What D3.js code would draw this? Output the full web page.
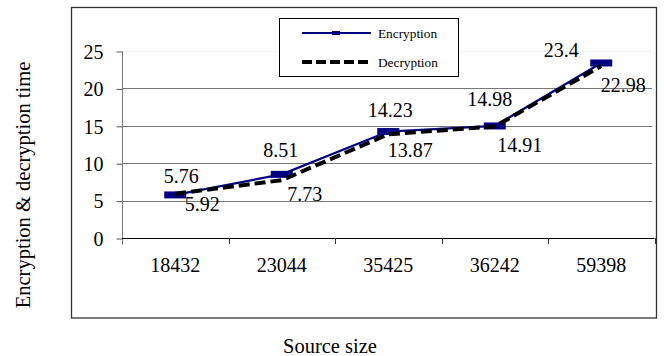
<!DOCTYPE html>
<html>
<head>
<meta charset="utf-8">
<script src="https://cdn.jsdelivr.net/npm/d3@7"></script>
<style>
  html, body { margin: 0; padding: 0; background: #fff; }
  svg { display: block; }
</style>
</head>
<body>
<svg id="chart" width="664" height="356"></svg>
<script>
// ---- data ----
const categories = ["18432", "23044", "35425", "36242", "59398"];
const encryption = [5.76, 8.51, 14.23, 14.98, 23.4];
const decryption = [5.92, 7.73, 13.87, 14.91, 22.98];
const yTicks = [0, 5, 10, 15, 20, 25];
const seriesNames = ["Encryption", "Decryption"];
const xTitle = "Source size";
const yTitle = "Encryption & decryption time";

// ---- layout (label nudges, px) ----
const encLabelDx = [6, -1, 2, -5, -40];
const encLabelDy = [-12, -17, -15, -20, -6];
const decLabelDx = [27, 23, 22, 25, 22];
const decLabelDy = [17, 21, 23, 26, 26];

const FONT = "'Liberation Serif', Tinos, 'Times New Roman', Times, 'DejaVu Serif', serif";

const svg = d3.select("#chart");

// outer frame
svg.append("rect")
  .attr("x", 71.5).attr("y", 7.5).attr("width", 585).attr("height", 310.5)
  .attr("fill", "#fff").attr("stroke", "#333").attr("stroke-width", 1.3);

const x = d3.scaleBand().domain(categories).range([122, 654.5]).padding(0);
const y = d3.scaleLinear().domain([0, 25]).range([238, 51]);
const cx = c => x(c) + x.bandwidth() / 2;

// gridlines
svg.append("g").selectAll("line")
  .data(yTicks.filter(t => t > 0))
  .join("line")
  .attr("x1", 122).attr("x2", 652)
  .attr("y1", d => Math.round(y(d)) + 0.5).attr("y2", d => Math.round(y(d)) + 0.5)
  .attr("stroke", d => d === 25 ? "#f2f2f2" : "#777")
  .attr("stroke-width", 1);

// y axis
const yAxis = svg.append("g")
  .attr("transform", "translate(122.5,0.5)")
  .call(d3.axisLeft(y).tickValues(yTicks).tickSize(6).tickPadding(13).tickFormat(d3.format("d")));
yAxis.attr("font-family", FONT).attr("font-size", 20);
yAxis.select(".domain").attr("stroke", "#777").attr("d", `M0,${y(25)}V${y(0) + 6}`);
yAxis.selectAll(".tick line").attr("stroke", "#555");
yAxis.selectAll(".tick text").attr("fill", "#000").attr("dy", "0.34em");

// x axis line and boundary ticks
svg.append("line")
  .attr("x1", 122).attr("x2", 654.5)
  .attr("y1", y(0) + 0.5).attr("y2", y(0) + 0.5)
  .attr("stroke", "#000").attr("stroke-width", 1.2);
const bounds = categories.map(c => x(c)).concat([x.range()[1]]);
svg.append("g").selectAll("line")
  .data(bounds.slice(1))
  .join("line")
  .attr("x1", d => Math.round(d) + 0.5).attr("x2", d => Math.round(d) + 0.5)
  .attr("y1", y(0)).attr("y2", y(0) + 6)
  .attr("stroke", "#333");

// x tick labels
const xAxis = svg.append("g")
  .attr("transform", `translate(0,${y(0)})`)
  .call(d3.axisBottom(x).tickSize(0).tickPadding(20));
xAxis.attr("font-family", FONT).attr("font-size", 20);
xAxis.select(".domain").remove();
xAxis.selectAll(".tick text").attr("fill", "#000");

// lines
const line = d3.line().x(d => cx(d.c)).y(d => y(d.v));
const encData = categories.map((c, i) => ({ c, v: encryption[i] }));
const decData = categories.map((c, i) => ({ c, v: decryption[i] }));

svg.append("path").datum(encData)
  .attr("d", line).attr("fill", "none")
  .attr("stroke", "#000080").attr("stroke-width", 2.2);

svg.append("g").selectAll("rect")
  .data(encData).join("rect")
  .attr("x", d => cx(d.c) - 11).attr("y", d => y(d.v) - 3.5)
  .attr("width", 22).attr("height", 7)
  .attr("fill", "#000080");

svg.append("path").datum(decData)
  .attr("d", line).attr("fill", "none")
  .attr("stroke", "#000").attr("stroke-width", 4)
  .attr("stroke-dasharray", "11,5");

// data labels
const labels = svg.append("g").attr("font-family", FONT).attr("font-size", 20);
labels.selectAll("text.enc")
  .data(encData).join("text").attr("class", "enc")
  .attr("x", (d, i) => cx(d.c) + encLabelDx[i])
  .attr("y", (d, i) => y(d.v) + encLabelDy[i])
  .attr("text-anchor", "middle")
  .text(d => d.v);

labels.selectAll("text.dec")
  .data(decData).join("text").attr("class", "dec")
  .attr("x", (d, i) => cx(d.c) + decLabelDx[i])
  .attr("y", (d, i) => y(d.v) + decLabelDy[i])
  .attr("text-anchor", "middle")
  .text(d => d.v);

// legend
const lg = svg.append("g").attr("font-family", FONT);
lg.append("rect")
  .attr("x", 279.5).attr("y", 18.5).attr("width", 179).attr("height", 58)
  .attr("fill", "#fff").attr("stroke", "#000").attr("stroke-width", 1);
lg.append("line")
  .attr("x1", 302).attr("x2", 371).attr("y1", 33).attr("y2", 33)
  .attr("stroke", "#000080").attr("stroke-width", 2);
lg.append("rect")
  .attr("x", 332).attr("y", 31).attr("width", 8).attr("height", 4)
  .attr("fill", "#000080");
lg.append("line")
  .attr("x1", 302).attr("x2", 371).attr("y1", 62).attr("y2", 62)
  .attr("stroke", "#000").attr("stroke-width", 4).attr("stroke-dasharray", "10,4");
lg.selectAll("text.lt")
  .data(seriesNames).join("text")
  .attr("class", "lt")
  .attr("x", 378).attr("y", (d, i) => i === 0 ? 33 : 62)
  .attr("dy", "0.35em").attr("font-size", 13.3)
  .text(d => d);

// axis titles
const titles = svg.append("g").attr("font-family", FONT).attr("font-size", 20.5);
titles.append("text")
  .attr("x", 330).attr("y", 353)
  .attr("text-anchor", "middle")
  .text(xTitle);
titles.append("text")
  .attr("transform", "translate(30,185) rotate(-90)")
  .attr("text-anchor", "middle")
  .text(yTitle);
</script>
</body>
</html>
